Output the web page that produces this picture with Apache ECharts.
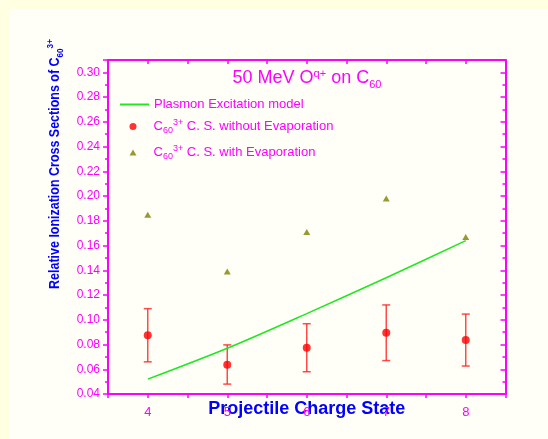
<!DOCTYPE html>
<html>
<head>
<meta charset="utf-8">
<script src="https://cdn.jsdelivr.net/npm/echarts@6/dist/echarts.min.js"></script>
<style>
html,body{margin:0;padding:0;background:#FFFFE1;}
#chart{width:548px;height:439px;}
</style>
</head>
<body>
<div id="chart"></div>
<script>
// ---- data ----
const charges = [4, 5, 6, 7, 8];
const plasmonModel = [0.052, 0.077, 0.105, 0.134, 0.164];
const withoutEvap = [0.0875, 0.0637, 0.0774, 0.0895, 0.0836];
const withoutEvapLow = [0.066, 0.048, 0.058, 0.067, 0.0626];
const withoutEvapHigh = [0.109, 0.0797, 0.0968, 0.112, 0.1046];
const withEvap = [0.185, 0.139, 0.171, 0.198, 0.167];

const MAG = '#FF00FF';
const BLUE = '#0000FF';
const FONT = 'Liberation Sans, Arial, sans-serif';

const chart = echarts.init(document.getElementById('chart'));

const richMag = {
  a: {fontSize: 13, color: MAG, fontFamily: FONT},
  g: {width: 12},
  sub: {fontSize: 9, color: MAG, fontFamily: FONT, padding: [8, 0, 0, 0]},
  sup: {fontSize: 9, color: MAG, fontFamily: FONT, padding: [0, 0, 8, 0]}
};
const legendNames = {
  plasmon: '{a|Plasmon Excitation model}',
  noevap: '{g|}{a|C}{sub|60}{sup|3+}{a| C. S. without Evaporation}',
  evap: '{g|}{a|C}{sub|60}{sup|3+}{a| C. S. with Evaporation}'
};
function legendCfg(name, icon, left, top, w, h) {
  return {
    data: [{name: name, icon: icon}], left: left, top: top, padding: 0, orient: 'vertical',
    itemWidth: w, itemHeight: h, selectedMode: false,
    formatter: n => legendNames[n],
    textStyle: {rich: richMag, color: MAG, fontFamily: FONT, fontSize: 13}
  };
}

const errStyle = {stroke: '#FF2A2A', lineWidth: 1.5, opacity: 0.85};

chart.setOption({
  backgroundColor: 'transparent',
  animation: false,
  graphic: [
    {type: 'rect', z: -100, silent: true, shape: {x: 10, y: 9, width: 540, height: 432}, style: {fill: '#FFFFF7'}},
    {type: 'text', silent: true, x: 55, y: 164, rotation: Math.PI / 2, scaleX: 0.86,
      style: {
        text: '{b|Relative Ionization Cross Sections of C}{bsub|60}{bsup|3+}',
        align: 'center', verticalAlign: 'middle',
        rich: {
          b: {fontSize: 14.5, fontWeight: 'bold', fill: BLUE, color: BLUE, fontFamily: FONT},
          bsub: {fontSize: 9.5, fontWeight: 'bold', fill: BLUE, color: BLUE, fontFamily: FONT, padding: [10, 0, 0, 0]},
          bsup: {fontSize: 9.5, fontWeight: 'bold', fill: BLUE, color: BLUE, fontFamily: FONT, padding: [0, 0, 10, 0]}
        }
      }}
  ],
  title: {
    text: '{a|50 MeV O}{sup|q+}{a| on C}{sub|60}',
    left: 302, top: 62, textAlign: 'center',
    textStyle: {
      fontWeight: 'normal',
      rich: {
        a: {fontSize: 18, color: MAG, fontFamily: FONT, fontWeight: 'normal'},
        sup: {fontSize: 11, color: MAG, fontFamily: FONT, fontWeight: 'normal', padding: [0, 0, 10, 0]},
        sub: {fontSize: 11, color: MAG, fontFamily: FONT, fontWeight: 'normal', padding: [12, 0, 0, 0]}
      }
    }
  },
  legend: [
    legendCfg('plasmon', 'rect', 120, 98, 29, 2),
    legendCfg('noevap', 'circle', 129.5, 118, 7, 7),
    legendCfg('evap', 'triangle', 129.5, 144, 7, 6)
  ],
  grid: {left: 108, right: 42.5, top: 60, bottom: 45, containLabel: false},
  xAxis: [
    {
      type: 'value', position: 'bottom', min: 3.5, max: 8.5, interval: 0.5,
      splitLine: {show: false},
      axisLine: {show: true, onZero: false, lineStyle: {color: MAG, width: 2}},
      axisTick: {show: true, inside: false, length: 4, lineStyle: {color: MAG, width: 1.5}},
      axisLabel: {color: MAG, fontSize: 13, fontFamily: FONT, margin: 12,
        formatter: v => (Math.abs(v - Math.round(v)) < 1e-9 ? String(Math.round(v)) : '')},
      name: 'Projectile Charge State', nameLocation: 'middle', nameGap: 6, nameMoveOverlap: false,
      nameTextStyle: {color: BLUE, fontSize: 18, fontWeight: 'bold', fontFamily: FONT}
    },
    {
      type: 'value', position: 'top', min: 3.5, max: 8.5, interval: 0.5,
      splitLine: {show: false},
      axisLine: {show: true, onZero: false, lineStyle: {color: MAG, width: 2}},
      axisTick: {show: true, inside: true, length: 4, lineStyle: {color: MAG, width: 1.5}},
      axisLabel: {show: false}
    }
  ],
  yAxis: [
    {
      type: 'value', position: 'left', min: 0.04, max: 0.31, interval: 0.02,
      splitLine: {show: false},
      axisLine: {show: true, onZero: false, lineStyle: {color: MAG, width: 2}},
      axisTick: {show: true, inside: false, length: 5, lineStyle: {color: MAG, width: 1.5}},
      minorTick: {show: true, splitNumber: 2, length: 3, lineStyle: {color: MAG, width: 1.5}},
      axisLabel: {color: MAG, fontSize: 12, fontFamily: FONT, margin: 8,
        formatter: v => (v > 0.305 ? '' : v.toFixed(2))}
    },
    {
      type: 'value', position: 'right', min: 0.04, max: 0.31, interval: 0.02,
      splitLine: {show: false},
      axisLine: {show: true, onZero: false, lineStyle: {color: MAG, width: 2}},
      axisTick: {show: true, inside: true, length: 5, lineStyle: {color: MAG, width: 1.5}},
      minorTick: {show: true, splitNumber: 2, length: 3, lineStyle: {color: MAG, width: 1.5}},
      axisLabel: {show: false}
    }
  ],
  series: [
    {
      name: 'plasmon', type: 'line', smooth: 0.3, symbol: 'none',
      xAxisIndex: 0, yAxisIndex: 0,
      lineStyle: {color: '#1EE81E', width: 1.5}, itemStyle: {color: '#1EE81E'},
      data: charges.map((c, i) => [c, plasmonModel[i]]), z: 3
    },
    {
      name: 'errbars', type: 'custom', xAxisIndex: 0, yAxisIndex: 0, z: 2,
      data: charges.map((c, i) => [c, withoutEvapLow[i], withoutEvapHigh[i]]),
      renderItem: function (params, api) {
        const x = api.value(0);
        const pLo = api.coord([x, api.value(1)]);
        const pHi = api.coord([x, api.value(2)]);
        const hw = 4;
        return {
          type: 'group', children: [
            {type: 'line', shape: {x1: pLo[0], y1: pLo[1], x2: pHi[0], y2: pHi[1]}, style: errStyle},
            {type: 'line', shape: {x1: pLo[0] - hw, y1: pLo[1], x2: pLo[0] + hw, y2: pLo[1]}, style: errStyle},
            {type: 'line', shape: {x1: pHi[0] - hw, y1: pHi[1], x2: pHi[0] + hw, y2: pHi[1]}, style: errStyle}
          ]
        };
      }
    },
    {
      name: 'noevap', type: 'scatter', symbol: 'circle', symbolSize: 8,
      xAxisIndex: 0, yAxisIndex: 0, z: 4,
      itemStyle: {color: '#FF0000'},
      data: charges.map((c, i) => [c, withoutEvap[i]])
    },
    {
      name: 'evap', type: 'scatter', symbol: 'triangle', symbolSize: [7, 6],
      xAxisIndex: 0, yAxisIndex: 0, z: 4,
      itemStyle: {color: '#808000'},
      data: charges.map((c, i) => [c, withEvap[i]])
    }
  ]
});
</script>
</body>
</html>
